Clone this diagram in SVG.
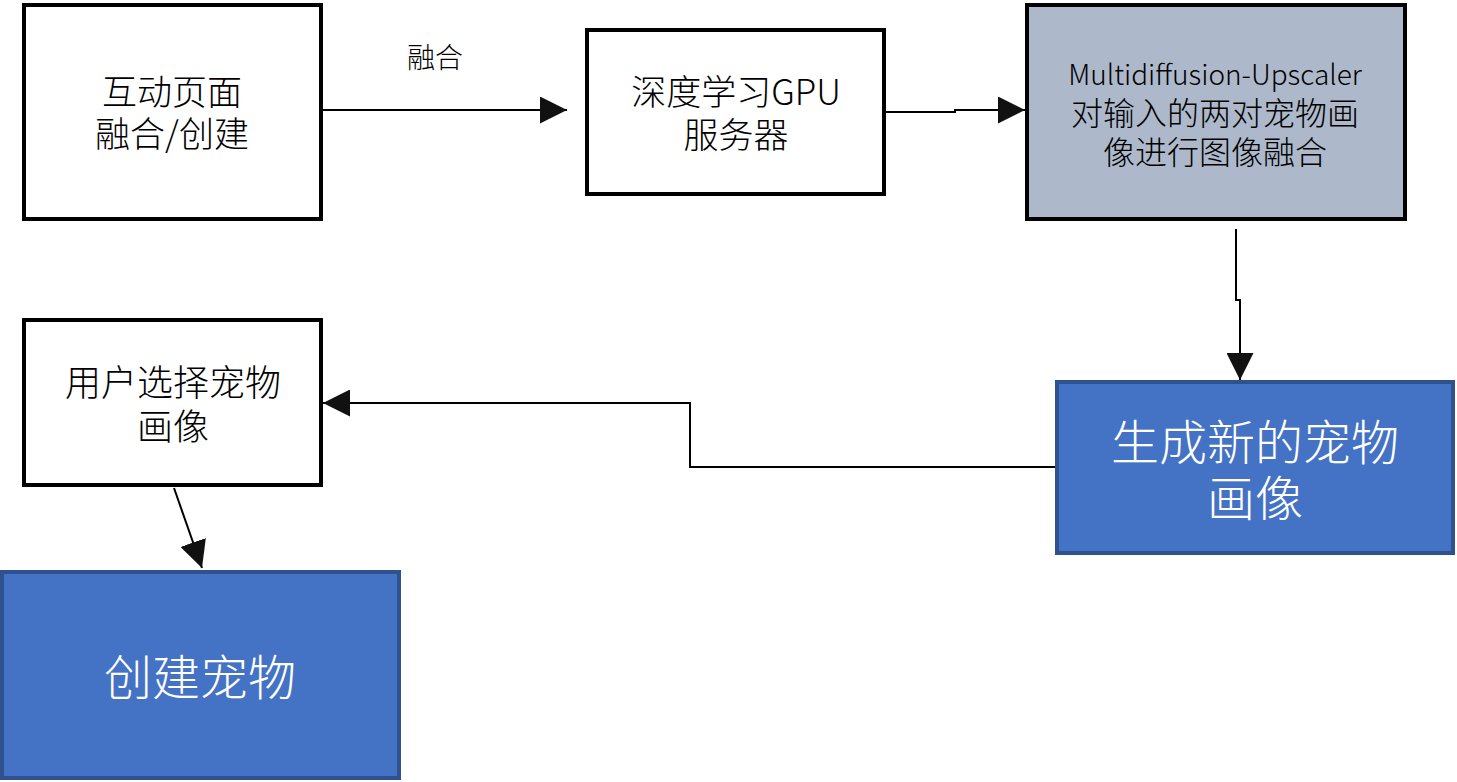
<svg xmlns="http://www.w3.org/2000/svg" width="1457" height="782" viewBox="0 0 1457 782">
<style>
.box{fill:#fff;stroke:#000;stroke-width:4}
.blue{fill:#4472c4;stroke:#2f528f;stroke-width:4}
.gray{fill:#adb9ca;stroke:#000;stroke-width:4}
.t{font-family:"Noto Sans CJK SC","Noto Sans",sans-serif;font-weight:300;text-anchor:middle;fill:#000}
.w{fill:#fff}
.c{fill:none;stroke:#000;stroke-width:2}
</style>
<defs>
<marker id="ah" viewBox="0 0 10 10" refX="10" refY="5" markerWidth="27" markerHeight="27" markerUnits="userSpaceOnUse" orient="auto"><path d="M0,0L10,5L0,10z" fill="#111"/></marker>
</defs>
<g id="connectors">
<path class="c" d="M323,110H567" marker-end="url(#ah)"/>
<path class="c" d="M886,112H955V110H1025" marker-end="url(#ah)"/>
<path class="c" d="M1236,229V300H1240V380" marker-end="url(#ah)"/>
<path class="c" d="M1055,467H690V403H323" marker-end="url(#ah)"/>
<path class="c" d="M174,488L202,568" marker-end="url(#ah)"/>
<text class="t" x="435" y="68" font-size="28">融合</text>
</g>
<g id="n1">
<rect class="box" x="24" y="5" width="297" height="214"/>
<text class="t" x="172" y="105" font-size="35">互动页面</text>
<text class="t" x="172" y="147" font-size="35">融合/创建</text>
</g>
<g id="n2">
<rect class="box" x="587" y="30" width="297" height="164"/>
<text class="t" x="736" y="105" font-size="35">深度学习GPU</text>
<text class="t" x="736" y="148" font-size="35">服务器</text>
</g>
<g id="n3">
<rect class="gray" x="1027" y="5" width="378" height="214"/>
<text class="t" x="1215" y="85" font-size="28">Multidiffusion-Upscaler</text>
<text class="t" x="1215" y="125" font-size="32">对输入的两对宠物画</text>
<text class="t" x="1215" y="164" font-size="32">像进行图像融合</text>
</g>
<g id="n4">
<rect class="blue" x="1057" y="382" width="396" height="171"/>
<text class="t w" x="1255" y="460" font-size="48">生成新的宠物</text>
<text class="t w" x="1255" y="516" font-size="48">画像</text>
</g>
<g id="n5">
<rect class="box" x="24" y="320" width="297" height="165"/>
<text class="t" x="173" y="396" font-size="36">用户选择宠物</text>
<text class="t" x="173" y="440" font-size="36">画像</text>
</g>
<g id="n6">
<rect class="blue" x="2" y="572" width="397" height="206"/>
<text class="t w" x="200" y="695" font-size="48">创建宠物</text>
</g>
</svg>
